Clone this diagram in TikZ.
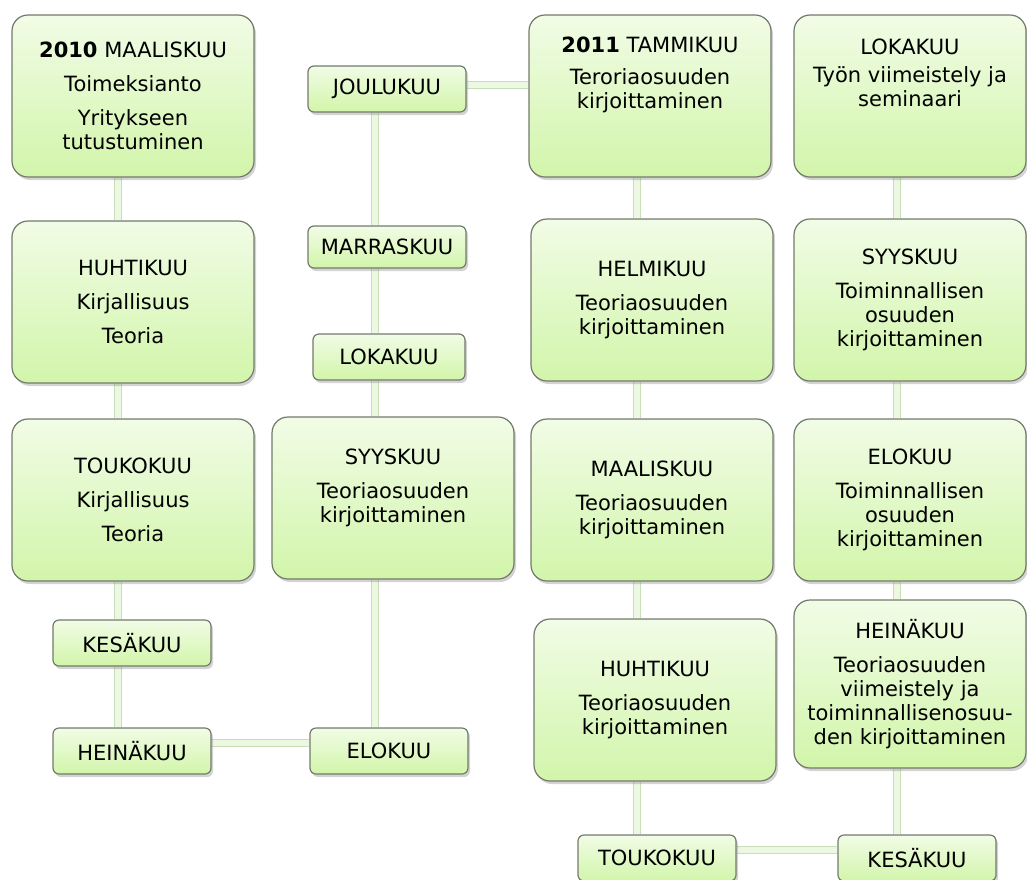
\documentclass[tikz,border=0pt]{standalone}
\usepackage{fontspec}
\setmainfont{DejaVu Sans}
\usepackage{tikz}
\usetikzlibrary{shadows,backgrounds}
\definecolor{boxtop}{RGB}{241,252,230}
\definecolor{boxbottom}{RGB}{210,245,170}
\definecolor{boxline}{RGB}{115,122,108}
\definecolor{linkline}{RGB}{200,222,184}
\definecolor{linkfill}{RGB}{236,248,226}

\begin{document}
\begin{tikzpicture}[x=0.5pt,y=-0.5pt,
    month/.style={draw=boxline,line width=0.6pt,top color=boxtop,bottom color=boxbottom,
      align=center,inner sep=2pt,font=\fontsize{10.5}{12}\selectfont,
      drop shadow={shadow xshift=1pt,shadow yshift=-1.5pt,opacity=0.35}},
    bigbox/.style={month,minimum width=121pt,minimum height=81pt,rounded corners=8pt},
    smallbox/.style={month,minimum width=79pt,minimum height=23pt,rounded corners=3pt},
    link/.style={draw=linkline,double=linkfill,double distance=2.6pt,line width=0.7pt}]
    \useasboundingbox (0,0) rectangle (1027,879);
    % connector columns
    \coordinate (c1) at (118,0);
    \coordinate (c2) at (375,0);
    \coordinate (c3) at (637,0);
    \coordinate (c4) at (897,0);
    % 2010
    \node[bigbox] (maalis10) at (133,96) {\textbf{2010} MAALISKUU\\[5pt]Toimeksianto\\[5pt]Yritykseen\\tutustuminen};
    \node[bigbox] (huhti10) at (133,302) {HUHTIKUU\\[5pt]Kirjallisuus\\[5pt]Teoria};
    \node[bigbox] (touko10) at (133,500) {TOUKOKUU\\[5pt]Kirjallisuus\\[5pt]Teoria};
    \node[smallbox] (kesa10) at (132,643) {KESÄKUU};
    \node[smallbox] (heina10) at (132,751) {HEINÄKUU};
    \node[smallbox] (elo10) at (389,751) {ELOKUU};
    \node[bigbox] (syys10) at (393,498) {SYYSKUU\\[5pt]Teoriaosuuden\\kirjoittaminen\\[0pt]\mbox{}};
    \node[smallbox,minimum width=76pt] (loka10) at (389,357) {LOKAKUU};
    \node[smallbox,minimum height=21pt] (marras10) at (387,247) {MARRASKUU};
    \node[smallbox] (joulu10) at (387,89) {JOULUKUU};
    % 2011
    \node[bigbox] (tammi11) at (650,96) {\textbf{2011} TAMMIKUU\\[4pt]Teroriaosuuden\\kirjoittaminen\\[11pt]\mbox{}};
    \node[bigbox] (helmi11) at (652,300) {HELMIKUU\\[5pt]Teoriaosuuden\\kirjoittaminen};
    \node[bigbox] (maalis11) at (652,500) {MAALISKUU\\[5pt]Teoriaosuuden\\kirjoittaminen};
    \node[bigbox] (huhti11) at (655,700) {HUHTIKUU\\[5pt]Teoriaosuuden\\kirjoittaminen};
    \node[smallbox] (touko11) at (657,858) {TOUKOKUU};
    \node[smallbox] (kesa11) at (917,858) {KESÄKUU};
    \node[bigbox,minimum width=116pt,minimum height=84pt] (heina11) at (910,684) {HEINÄKUU\\[5pt]Teoriaosuuden\\viimeistely ja\\toiminnallisenosuu-\\den kirjoittaminen};
    \node[bigbox,minimum width=116pt] (elo11) at (910,500) {ELOKUU\\[5pt]Toiminnallisen\\osuuden\\kirjoittaminen};
    \node[bigbox,minimum width=116pt] (syys11) at (910,300) {SYYSKUU\\[5pt]Toiminnallisen\\osuuden\\kirjoittaminen};
    \node[bigbox,minimum width=116pt] (loka11) at (910,96) {LOKAKUU\\[2pt]Työn viimeistely ja\\seminaari\\[11pt]\mbox{}};
    % connectors
    \begin{scope}[on background layer]
        \draw[link] (maalis10.south -| c1) -- (huhti10.north -| c1);
        \draw[link] (huhti10.south -| c1) -- (touko10.north -| c1);
        \draw[link] (touko10.south -| c1) -- (kesa10.north -| c1);
        \draw[link] (kesa10.south -| c1) -- (heina10.north -| c1);
        \draw[link] ([yshift=4pt]heina10.east) -- ([yshift=4pt]elo10.west);
        \draw[link] (elo10.north -| c2) -- (syys10.south -| c2);
        \draw[link] (syys10.north -| c2) -- (loka10.south -| c2);
        \draw[link] (loka10.north -| c2) -- (marras10.south -| c2);
        \draw[link] (marras10.north -| c2) -- (joulu10.south -| c2);
        \draw[link] ([yshift=2pt]joulu10.east) -- ([yshift=2pt]tammi11.west |- joulu10.east);
        \draw[link] (tammi11.south -| c3) -- (helmi11.north -| c3);
        \draw[link] (helmi11.south -| c3) -- (maalis11.north -| c3);
        \draw[link] (maalis11.south -| c3) -- (huhti11.north -| c3);
        \draw[link] (huhti11.south -| c3) -- (touko11.north -| c3);
        \draw[link] ([yshift=4pt]touko11.east) -- ([yshift=4pt]kesa11.west);
        \draw[link] (kesa11.north -| c4) -- (heina11.south -| c4);
        \draw[link] (heina11.north -| c4) -- (elo11.south -| c4);
        \draw[link] (elo11.north -| c4) -- (syys11.south -| c4);
        \draw[link] (syys11.north -| c4) -- (loka11.south -| c4);
    \end{scope}
\end{tikzpicture}
\end{document}
